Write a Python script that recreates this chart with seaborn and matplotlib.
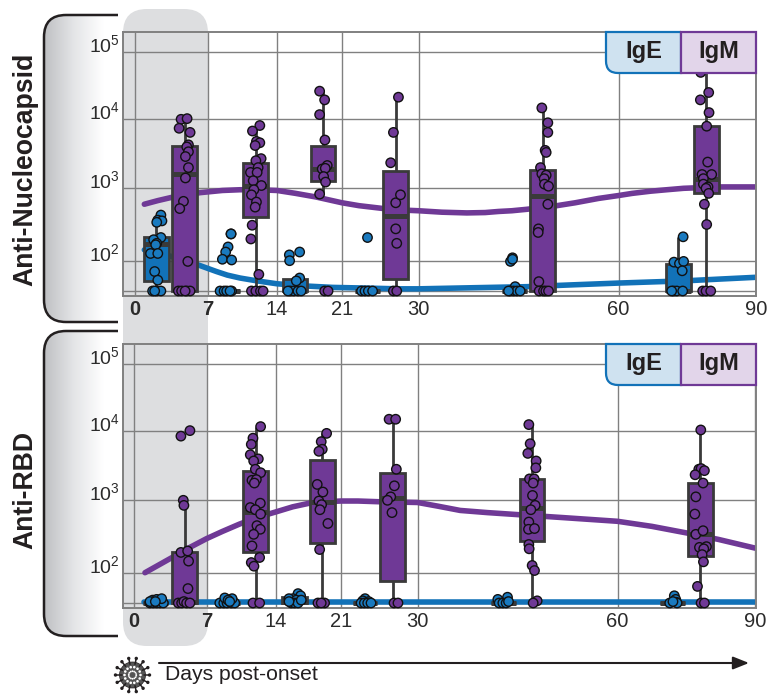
import numpy as np
import pandas as pd
import seaborn as sns
import matplotlib.pyplot as plt
from matplotlib.patches import FancyBboxPatch, PathPatch, Circle
from matplotlib.path import Path

# values are (day post-onset, log10 titre)
nc_ige_points = [
    (2.5, 2.63), (2.2, 2.56), (2.6, 2.55), (2.1, 2.53), (2.5, 2.32), (1.8, 2.29), (2.1, 2.24), (2.0, 2.22),
    (1.5, 2.10), (2.2, 2.10), (1.9, 1.85), (2.2, 1.73), (1.7, 1.58), (2.1, 1.58), (2.5, 1.58), (1.9, 1.58),
    (9.37, 2.37), (9.37, 2.37), (9.07, 2.19), (8.83, 2.12), (8.5, 2.02), (9.43, 2.01),
    (8.27, 1.58), (8.67, 1.58), (8.93, 1.58), (9.43, 1.58), (9.27, 1.58),
    (16.44, 2.12), (15.33, 2.08), (15.36, 2.0), (16.44, 1.76), (16.08, 1.72),
    (15.43, 1.58), (15.8, 1.58), (16.26, 1.58), (16.6, 1.58), (15.18, 1.58),
    (24.0, 2.32), (23.3, 1.58), (23.7, 1.58), (24.1, 1.58), (24.6, 1.58),
    (44.1, 2.04), (43.8, 1.99), (44.1, 2.02), (44.5, 1.64), (43.75, 1.58), (44.25, 1.58),
    (44.75, 1.58), (45.25, 1.58), (43.5, 1.58),
    (74.1, 2.33), (72.1, 1.98), (73.3, 1.96), (74.2, 1.99), (73.9, 1.86),
    (72.0, 1.58), (72.7, 1.58), (74.0, 1.58), (71.6, 1.58),
]
nc_igm_points = [
    (4.45, 4.0), (5.03, 4.01), (4.26, 3.87), (5.32, 3.81), (5.16, 3.63), (5.0, 3.60), (5.16, 3.53), (4.87, 3.46),
    (5.16, 3.30), (4.87, 3.15), (4.68, 2.82), (4.32, 2.72), (5.1, 1.99),
    (4.19, 1.58), (4.5, 1.58), (5.0, 1.58), (5.32, 1.58), (4.84, 1.58),
    (12.27, 3.91), (11.53, 3.83), (11.93, 3.68), (12.27, 3.66), (11.8, 3.62), (12.4, 3.43), (11.87, 3.40),
    (12.1, 3.30), (11.33, 3.23), (12.0, 3.23), (11.6, 3.11), (12.43, 3.04), (11.67, 2.98), (11.43, 2.91),
    (11.93, 2.81), (11.8, 2.74), (11.5, 2.49), (11.37, 2.30), (12.17, 1.81),
    (11.43, 1.58), (11.87, 1.58), (12.33, 1.58), (12.6, 1.58),
    (18.59, 4.42), (19.13, 4.29), (18.59, 4.07), (19.16, 3.70), (19.41, 3.33), (18.87, 3.28), (19.2, 3.29),
    (19.02, 3.17), (19.23, 3.09), (18.59, 2.92), (19.13, 1.58), (19.5, 1.58),
    (27.64, 4.33), (27.05, 3.81), (26.73, 3.37), (27.32, 2.80), (27.88, 2.91), (27.32, 2.44), (27.44, 2.24),
    (27.05, 1.58), (27.44, 1.58),
    (48.5, 4.17), (49.4, 3.95), (49.4, 3.81), (49.0, 3.55), (49.15, 3.52), (48.3, 3.30), (48.5, 3.21),
    (49.15, 3.19), (48.85, 3.14), (48.9, 3.06), (49.5, 3.03), (49.4, 2.78), (48.0, 2.44), (47.95, 2.39),
    (48.05, 1.71), (48.1, 1.58), (48.75, 1.58), (49.1, 1.58), (49.5, 1.58),
    (77.94, 4.70), (79.68, 4.40), (77.86, 4.29), (79.75, 4.10), (79.24, 3.90), (79.46, 3.38), (78.23, 3.20),
    (80.33, 3.20), (78.52, 3.14), (78.52, 3.06), (79.53, 3.02), (79.1, 3.0), (79.68, 2.93), (78.74, 2.78),
    (79.24, 2.50), (78.37, 1.58), (79.1, 1.58), (80.12, 1.58),
]
rbd_ige_points = [
    (1.54, 1.58), (1.86, 1.58), (2.19, 1.58), (2.51, 1.58), (2.83, 1.58), (1.8, 1.62), (2.19, 1.63),
    (2.67, 1.64), (1.54, 1.6), (2.06, 1.6),
    (8.34, 1.58), (8.74, 1.58), (9.07, 1.58), (9.51, 1.58), (9.84, 1.58), (8.84, 1.65), (9.58, 1.64),
    (9.17, 1.62), (9.34, 1.6),
    (16.37, 1.71), (16.65, 1.68), (15.83, 1.64), (15.4, 1.64), (16.19, 1.62), (15.65, 1.58), (16.0, 1.58),
    (16.37, 1.58), (15.4, 1.6), (16.72, 1.62),
    (23.83, 1.64), (23.56, 1.61), (24.26, 1.6), (23.36, 1.58), (23.75, 1.58), (24.14, 1.58), (24.53, 1.58),
    (42.05, 1.63), (43.5, 1.66), (42.25, 1.58), (42.8, 1.58), (43.3, 1.58), (43.65, 1.6),
    (72.4, 1.68), (72.7, 1.63), (72.83, 1.59), (71.4, 1.58), (73.0, 1.58), (72.1, 1.6),
]
rbd_igm_points = [
    (5.4, 4.01), (4.53, 3.93), (4.76, 3.0), (4.82, 2.93), (4.53, 2.28), (5.18, 2.30), (5.27, 2.16), (5.21, 1.78),
    (4.28, 1.58), (4.6, 1.58), (4.82, 1.60), (5.08, 1.58), (5.4, 1.58),
    (12.45, 4.07), (11.68, 3.90), (11.51, 3.81), (11.41, 3.66), (12.22, 3.60), (11.75, 3.57), (11.92, 3.45),
    (12.45, 3.40), (11.58, 3.29), (12.02, 3.30), (11.82, 3.25), (12.42, 2.96), (11.41, 2.90), (11.92, 2.87),
    (12.45, 2.81), (12.08, 2.65), (12.42, 2.60), (11.75, 2.53), (11.58, 2.37), (12.35, 2.21), (11.51, 2.14),
    (11.78, 2.09), (11.68, 1.58), (12.35, 1.58),
    (19.45, 3.97), (18.87, 3.85), (18.98, 3.74), (18.62, 3.71), (18.44, 3.23), (19.05, 3.12), (18.62, 2.99),
    (18.91, 2.94), (18.73, 2.87), (19.59, 2.68), (18.7, 2.32), (18.52, 1.58), (19.23, 1.58), (18.87, 1.58),
    (26.66, 4.18), (27.43, 4.18), (27.51, 3.45), (27.28, 3.21), (26.85, 3.05), (26.47, 3.0), (27.0, 2.83),
    (27.24, 1.58), (27.7, 1.58),
    (46.7, 4.10), (46.9, 3.82), (46.55, 3.68), (47.8, 3.57), (47.75, 3.47), (46.8, 3.31), (47.5, 3.31),
    (47.35, 3.25), (47.25, 3.07), (47.65, 2.93), (47.0, 2.87), (46.7, 2.70), (46.65, 2.60), (47.55, 2.61),
    (46.7, 2.39), (46.75, 2.33), (47.2, 2.10), (47.55, 2.03), (47.95, 1.61), (47.35, 1.58),
    (78.17, 4.02), (77.74, 3.45), (78.24, 3.46), (78.96, 3.43), (76.94, 3.37), (78.67, 3.25), (77.09, 3.05),
    (76.87, 2.81), (77.09, 2.53), (78.67, 2.58), (77.88, 2.35), (79.4, 2.36), (78.82, 2.33), (78.46, 2.25),
    (78.75, 2.15), (77.45, 1.81), (78.24, 1.58), (78.96, 1.58),
]

# box centres in days and (min, q1, median, q3, max) in log10 titre
nc_ige_box_days = [2.06, 9.03, 15.94, 23.96, 44.35, 73.0]
nc_igm_box_days = [4.8, 11.87, 18.95, 27.3, 48.65, 79.17]
rbd_ige_box_days = [2.1, 9.1, 16.0, 23.83, 42.9, 72.0]
rbd_igm_box_days = [4.89, 11.95, 18.98, 27.08, 47.15, 78.1]
nc_ige_box = [
    [1.58, 1.72, 2.23, 2.33, 2.63], [1.58, 1.58, 1.58, 1.58, 1.58], [1.58, 1.58, 1.58, 1.74, 1.74],
    [1.58, 1.58, 1.58, 1.58, 1.58], [1.58, 1.58, 1.58, 1.58, 1.58], [1.58, 1.58, 1.58, 1.96, 2.33],
]
nc_igm_box = [
    [1.58, 1.58, 3.21, 3.61, 3.99], [1.58, 2.61, 3.04, 3.36, 3.92], [2.92, 3.10, 3.28, 3.61, 4.42],
    [1.58, 1.74, 2.62, 3.25, 4.33], [1.58, 1.58, 2.90, 3.27, 4.17], [1.58, 2.93, 3.14, 3.90, 4.70],
]
rbd_ige_box = [
    [1.58, 1.58, 1.58, 1.58, 1.58], [1.58, 1.58, 1.58, 1.58, 1.58], [1.58, 1.58, 1.6, 1.67, 1.67],
    [1.58, 1.58, 1.58, 1.58, 1.58], [1.58, 1.58, 1.58, 1.58, 1.58], [1.58, 1.58, 1.58, 1.58, 1.58],
]
rbd_igm_box = [
    [1.58, 1.58, 1.6, 2.29, 3.0], [1.58, 2.29, 2.84, 3.43, 4.07], [1.58, 2.41, 2.97, 3.59, 3.97],
    [1.58, 1.89, 3.03, 3.39, 4.18], [1.58, 2.44, 2.90, 3.31, 4.10], [1.58, 2.23, 2.54, 3.25, 4.02],
]

# fitted curves (day, log10 titre)
nc_ige_curve = [(0.9, 2.15), (3.5, 2.06), (4.8, 2.0), (6.13, 1.94), (7.9, 1.85), (9, 1.8), (10.27, 1.76), (12, 1.72),
                (14, 1.68), (17, 1.65), (20, 1.63), (24, 1.62), (27.6, 1.61), (30, 1.61), (38, 1.625), (46.25, 1.64),
                (53, 1.665), (60, 1.69), (67, 1.705), (74.2, 1.72), (82, 1.745), (90, 1.77)]
nc_igm_curve = [(0.9, 2.78), (2.2, 2.83), (3.7, 2.88), (6.3, 2.94), (8.5, 2.97), (10.27, 2.98), (12, 2.98), (14, 2.97),
                (16, 2.93), (18.2, 2.88), (21, 2.8), (23, 2.76), (25.9, 2.72), (28, 2.70), (30, 2.69), (33.5, 2.67),
                (37.25, 2.66), (40, 2.665), (42, 2.68), (44, 2.69), (46.25, 2.71), (48.5, 2.735), (50.75, 2.76),
                (53.5, 2.80), (57, 2.86), (60, 2.90), (63, 2.93), (67, 2.96), (70.5, 2.98), (74.2, 3.0),
                (78, 3.01), (82, 3.02), (85, 3.02), (90, 3.02)]
rbd_ige_curve = [(1.0, 1.6), (30, 1.6), (60, 1.6), (90, 1.6)]
rbd_igm_curve = [(1.06, 2.0), (3.8, 2.22), (5.4, 2.35), (7, 2.47), (8.6, 2.57), (10.3, 2.67), (12, 2.76), (14, 2.84),
                 (15.8, 2.91), (17.6, 2.96), (19.3, 2.98), (21, 2.99), (23, 2.99), (25.5, 2.98), (27.7, 2.975),
                 (30, 2.97), (33, 2.92), (36.4, 2.86), (40.5, 2.83), (45.4, 2.80), (52, 2.76), (60, 2.71),
                 (67.5, 2.64), (75, 2.55), (82, 2.46), (86, 2.40), (90, 2.34)]

day_ticks = [0, 7, 14, 21, 30, 60, 90]
decade_ticks = [2, 3, 4, 5]
lod = 1.58
panel_names = ['Anti-Nucleocapsid', 'Anti-RBD']

# the axes in the figure are not evenly spaced
day_anchor = [-2, 0, 7, 14, 21, 30, 60, 90, 100]
day_pos = [112.6, 135, 207.5, 277, 342, 418.5, 618.5, 756, 802]
log_anchor = [1.0, 1.58, 2, 3, 4, 5, 6]
log_pos = [-333, -291, -260.7, -188.3, -119.3, -52.3, 14]

blue = '#1272b8'
blue_dot = '#1a7abf'
purple = '#6f3996'
dark = '#3a3a3a'
grid = '#808080'
ink = '#231f20'

W, H = 767, 694


def to_pos(d):
    return np.interp(d, day_anchor, day_pos)


def y_fwd(v):
    return np.interp(np.log10(np.maximum(v, 1e-3)), log_anchor, log_pos)


def y_inv(p):
    return 10 ** np.interp(p, log_pos, log_anchor)


def points_df(ige, igm):
    rows = [(d, l, 'IgE') for d, l in ige] + [(d, l, 'IgM') for d, l in igm]
    df = pd.DataFrame(rows, columns=['day', 'log', 'isotype'])
    df['pos'] = to_pos(df['day'])
    df['titre'] = 10 ** df['log']
    return df


def box_df(ige_days, ige, igm_days, igm):
    rows = []
    for days, boxes, iso in [(ige_days, ige, 'IgE'), (igm_days, igm, 'IgM')]:
        for d, five in zip(days, boxes):
            rows += [(to_pos(d), 10 ** v, iso) for v in five]
    return pd.DataFrame(rows, columns=['pos', 'titre', 'isotype'])


def rounded_left(x0, y0, x1, y1, r):
    verts = [(x1, y0), (x0, y0), (x0, y1 - r), (x0, y1), (x0 + r, y1), (x1, y1), (x1, y0)]
    codes = [Path.MOVETO, Path.LINETO, Path.LINETO, Path.CURVE3, Path.CURVE3, Path.LINETO, Path.LINETO]
    return Path(verts, codes)


sns.set_theme(style='white')
plt.rcParams['font.family'] = ['Liberation Sans', 'DejaVu Sans']
palette = {'IgE': blue, 'IgM': purple}
dot_palette = {'IgE': blue_dot, 'IgM': purple}

fig = plt.figure(figsize=(W / 100, H / 100), dpi=100)
bg = fig.add_axes([0, 0, 1, 1], zorder=0)
bg.set_xlim(0, W)
bg.set_ylim(H, 0)
bg.axis('off')

# shaded first week, runs through both panels
bg.add_patch(FancyBboxPatch((123, 9), 85, 637, boxstyle='round,pad=0,rounding_size=24',
                            fc='#dddee0', ec='none', zorder=1))

# brackets on the left with the panel names
shade = sns.blend_palette(['#bfc0c3', '#e4e5e7', 'white'], as_cmap=True)
for (top, bottom), name, mid in zip([(15, 322), (331, 636)], panel_names, [169, 490]):
    clip = FancyBboxPatch((44, top), 100, bottom - top, boxstyle='round,pad=0,rounding_size=22',
                          fc='none', ec='none', transform=bg.transData)
    bg.add_patch(clip)
    im = bg.imshow(np.linspace(0, 1, 120).reshape(1, -1), cmap=shade, aspect='auto',
                   extent=(44, 104, bottom, top), zorder=0.5)
    im.set_clip_path(clip)
    outline = Path([(118, top), (66, top), (44, top), (44, top + 22), (44, bottom - 22), (44, bottom),
                    (66, bottom), (118, bottom)],
                   [Path.MOVETO, Path.LINETO, Path.CURVE3, Path.CURVE3, Path.LINETO, Path.CURVE3,
                    Path.CURVE3, Path.LINETO])
    bg.add_patch(PathPatch(outline, fc='none', ec=ink, lw=1.8, zorder=2))
    bg.text(25, mid, name, rotation=90, ha='center', va='center',
            fontsize=19.2, fontweight='bold', color=ink, zorder=3)
bg.set_xlim(0, W)
bg.set_ylim(H, 0)

panels = [
    (32, 296, 0, points_df(nc_ige_points, nc_igm_points),
     box_df(nc_ige_box_days, nc_ige_box, nc_igm_box_days, nc_igm_box), nc_ige_curve, nc_igm_curve),
    (344, 608, 1, points_df(rbd_ige_points, rbd_igm_points),
     box_df(rbd_ige_box_days, rbd_ige_box, rbd_igm_box_days, rbd_igm_box), rbd_ige_curve, rbd_igm_curve),
]

for top, bottom, shift, pts, boxes, ige_curve, igm_curve in panels:
    ax = fig.add_axes([123 / W, 1 - bottom / H, 633 / W, (bottom - top) / H], zorder=2)
    ax.patch.set_alpha(0)
    ax.set_yscale('function', functions=(y_fwd, y_inv))

    for curve, col in [(ige_curve, blue), (igm_curve, purple)]:
        c = pd.DataFrame(curve, columns=['day', 'log'])
        sns.lineplot(x=to_pos(c['day']), y=10 ** c['log'], color=col, lw=4, errorbar=None,
                     zorder=1.5, ax=ax)

    sns.boxplot(data=boxes, x='pos', y='titre', hue='isotype', palette=palette, native_scale=True,
                dodge=False, width=0.89, whis=(0, 100), showfliers=False, showcaps=False, saturation=1,
                linewidth=2, linecolor=dark, medianprops={'linewidth': 3.6}, legend=False, ax=ax)
    sns.scatterplot(data=pts, x='pos', y='titre', hue='isotype', palette=dot_palette, s=46,
                    edgecolor='#111111', linewidth=1.0, legend=False, zorder=4, clip_on=False, ax=ax)

    ax.set_xlim(123 + shift, 756 + shift)
    ax.set_ylim(y_inv(-296), y_inv(-32))
    ax.set_xticks(to_pos(day_ticks))
    ax.set_xticklabels([str(d) for d in day_ticks], fontsize=14.5, color='#2b2b2b')
    for lab, d in zip(ax.get_xticklabels(), day_ticks):
        if d in (0, 7):
            lab.set_fontweight('bold')
    ax.set_yticks([10 ** lod] + [10 ** d for d in decade_ticks])
    ax.set_yticklabels([])
    ax.minorticks_off()
    ax.tick_params(axis='x', length=0, pad=3)
    ax.tick_params(axis='y', length=3, width=1, color=grid)
    ax.grid(True, color=grid, lw=1.0)
    ax.set_axisbelow(True)
    ax.set_xlabel('')
    ax.set_ylabel('')
    for s in ax.spines.values():
        s.set_color(grid)
        s.set_linewidth(1.4)
    for d in decade_ticks:
        ax.annotate(rf'$\mathregular{{10^{{{d}}}}}$', xy=(0, 10 ** d), xycoords=ax.get_yaxis_transform(),
                    xytext=(-2, 5), textcoords='offset points', ha='right', va='center',
                    fontsize=14, color='#2b2b2b', annotation_clip=False)

fg = fig.add_axes([0, 0, 1, 1], zorder=5)
fg.set_xlim(0, W)
fg.set_ylim(H, 0)
fg.axis('off')
fg.patch.set_alpha(0)

# IgE / IgM key in the corner of each panel
for top in (32, 344):
    fg.add_patch(PathPatch(rounded_left(606, top, 681, top + 41, 12), fc='#cfe2f0', ec=blue, lw=1.6))
    fg.add_patch(plt.Rectangle((681, top), 75, 41, fc='#e2d5ea', ec=purple, lw=1.6))
    fg.text(643.5, top + 19, 'IgE', ha='center', va='center', fontsize=17, fontweight='bold', color=ink)
    fg.text(718.5, top + 19, 'IgM', ha='center', va='center', fontsize=17, fontweight='bold', color=ink)

# footer
fg.annotate('', xy=(749, 663), xytext=(159, 663),
            arrowprops=dict(arrowstyle='-|>,head_length=0.8,head_width=0.32', color=ink, lw=1.5,
                            shrinkA=0, shrinkB=0))
fg.text(165, 674, 'Days post-onset', ha='left', va='center', fontsize=15.2, color=ink)

# small virus glyph
cx, cy = 132.5, 675
fg.add_patch(Circle((cx, cy), 13, fc='#555555', ec=ink, lw=0.5))
for a in np.linspace(0, 2 * np.pi, 14, endpoint=False):
    ux, uy = np.cos(a), np.sin(a)
    fg.plot([cx + 11 * ux, cx + 17 * ux], [cy + 11 * uy, cy + 17 * uy], color=ink, lw=1.1)
    fg.add_patch(Circle((cx + 17 * ux, cy + 17 * uy), 1.7, fc=ink, ec='none'))
    fg.add_patch(Circle((cx + 8 * ux, cy + 8 * uy), 1.3, fc='white', ec='none'))
    fg.add_patch(Circle((cx + 3.8 * np.cos(a + .2), cy + 3.8 * np.sin(a + .2)), 0.9, fc='white', ec='none'))

fig.savefig('out.png', dpi=100)
